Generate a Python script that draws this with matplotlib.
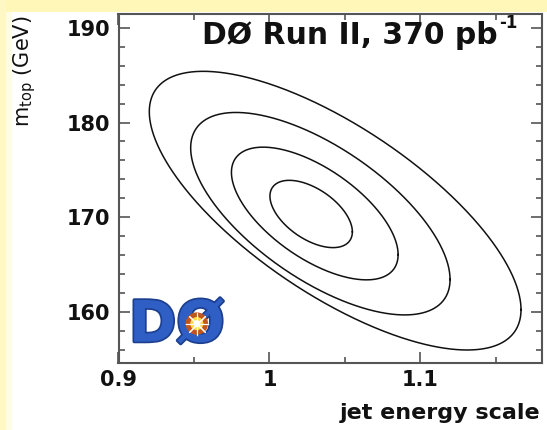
import numpy as np
import matplotlib
matplotlib.use("Agg")
import matplotlib.pyplot as plt
from matplotlib.patches import Rectangle
from matplotlib.ticker import MultipleLocator, FixedLocator, FixedFormatter
import matplotlib.patheffects as pe

# Likelihood contours in the (jet energy scale, m_top) plane, innermost first.
contour_cx = [1.0276, 1.0300, 1.0337, 1.0435]      # centre, jet energy scale
contour_cy = [170.35, 170.40, 170.38, 170.70]      # centre, m_top (GeV)
contour_ax = [0.0273, 0.0552, 0.0859, 0.1231]      # half-extent in JES
contour_by = [3.55, 7.00, 10.68, 14.70]            # half-extent in m_top
contour_rho = [-0.53, -0.62, -0.65, -0.71]         # correlation

x_ticks = [0.9, 1.0, 1.1]
x_ticklabels = ["0.9", "1", "1.1"]
y_ticks = [160, 170, 180, 190]
y_ticklabels = ["160", "170", "180", "190"]

W, H = 547, 430
fig = plt.figure(figsize=(W / 100, H / 100), dpi=100)
fig.patch.set_facecolor("white")

# pale yellow frame strips
fig.patches.append(Rectangle((0, 1 - 12 / H), 1, 12 / H, transform=fig.transFigure,
                             facecolor="#FFF7B8", edgecolor="none", zorder=0))
fig.patches.append(Rectangle((0, 0), 6 / W, 1, transform=fig.transFigure,
                             facecolor="#FFF8C4", edgecolor="none", zorder=0))
fig.patches.append(Rectangle((6 / W, 0), 6 / W, 1 - 12 / H, transform=fig.transFigure,
                             facecolor="#FFFCE6", edgecolor="none", zorder=0))

left, right = 118.5 / W, 542 / W
bottom, top = 1 - 362.7 / H, 1 - 13.5 / H
ax = fig.add_axes([left, bottom, right - left, top - bottom])
ax.set_facecolor("white")

theta = np.linspace(0, 2 * np.pi, 600)
for cx, cy, a, b, r in zip(contour_cx, contour_cy, contour_ax, contour_by, contour_rho):
    xs = cx + a * np.cos(theta)
    ys = cy + b * (r * np.cos(theta) + np.sqrt(1 - r * r) * np.sin(theta))
    ax.plot(xs, ys, color="#111111", lw=1.1)

ax.set_xlim(0.9, 1.1805)
ax.set_ylim(154.66, 191.5)

spine_col = "#555555"
for s in ax.spines.values():
    s.set_color(spine_col)
    s.set_linewidth(1.5)

ax.xaxis.set_major_locator(FixedLocator(x_ticks))
ax.xaxis.set_major_formatter(FixedFormatter(x_ticklabels))
ax.yaxis.set_major_locator(FixedLocator(y_ticks))
ax.yaxis.set_major_formatter(FixedFormatter(y_ticklabels))
ax.xaxis.set_minor_locator(MultipleLocator(0.05))
ax.yaxis.set_minor_locator(MultipleLocator(2))
ax.tick_params(which="both", direction="in", top=True, right=True,
               color=spine_col, width=1.2)
ax.tick_params(which="major", length=8, labelsize=15)
ax.tick_params(which="minor", length=4)
ax.tick_params(axis="y", which="major", pad=6)
ax.tick_params(axis="x", which="major", pad=5)
for lab in ax.get_xticklabels() + ax.get_yticklabels():
    lab.set_fontweight("bold")
    lab.set_color("#111111")

ax.set_xlabel("jet energy scale", fontsize=16, fontweight="bold", color="#111111")
ax.xaxis.set_label_coords(0.995, -0.145)
ax.xaxis.label.set_ha("right")
ax.xaxis.label.set_va("center")

ax.set_ylabel(r"m$_{\rm top}$ (GeV)", fontsize=15, color="#111111")
ax.yaxis.set_label_coords(-0.222, 0.835)
ax.yaxis.label.set_va("center")
ax.yaxis.label.set_ha("center")

title = ax.text(0.896, 0.912, "DØ Run II, 370 pb", transform=ax.transAxes,
                ha="right", va="baseline", fontsize=21.5, fontweight="bold",
                color="#111111")
ax.annotate("-1", xy=(1.0, 1.0), xycoords=title, xytext=(0.5, -8),
            textcoords="offset points", ha="left", va="bottom",
            fontsize=12, fontweight="bold", color="#111111")

# experiment logo
ax.text(0.138, 0.105, "DØ", transform=ax.transAxes, ha="center", va="center",
        fontsize=41, fontweight="bold", color="#2F5FC4",
        path_effects=[pe.withStroke(linewidth=2.5, foreground="#1C3F8F")], zorder=5)
ax.scatter([0.185], [0.112], s=260, color="#C2561A", transform=ax.transAxes, zorder=6,
           edgecolors="none")
ax.scatter([0.185], [0.112], s=90, color="#FFD84A", transform=ax.transAxes, zorder=7,
           edgecolors="none")
ax.scatter([0.185], [0.112], s=260, marker=(8, 2, 0), color="white", linewidths=0.8,
           transform=ax.transAxes, zorder=8)
ax.scatter([0.185], [0.112], s=25, color="white", transform=ax.transAxes, zorder=9,
           edgecolors="none")

fig.savefig("out.png", dpi=100, facecolor=fig.get_facecolor())
